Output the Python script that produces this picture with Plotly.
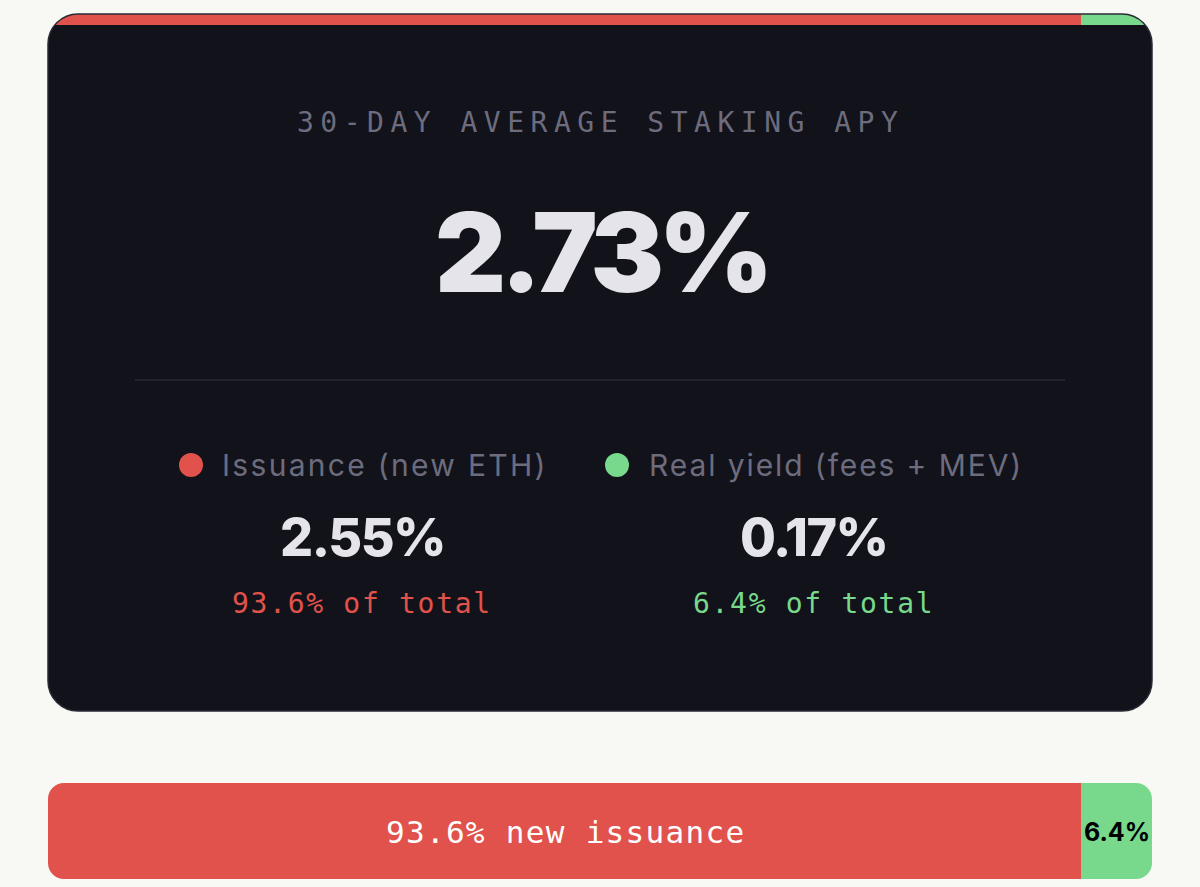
import plotly.graph_objects as go

# ---------------- data ----------------
title_text = "30-DAY AVERAGE STAKING APY"
total_apy = 2.73
components = ["Issuance (new ETH)", "Real yield (fees + MEV)"]
apy_values = [2.55, 0.17]
share_pct = [93.6, 6.4]
bar_labels = ["new issuance", ""]

# ---------------- style ----------------
W, H = 1200, 887
PAGE = "#f8f8f4"
CARD = "#12121a"
CARD_EDGE = "#2a2a36"
RED = "#e0524b"
GREEN = "#78d88c"
GREY = "#6c6c7e"
WHITE = "#e4e4ea"
SANS = "Inter, Lato, sans-serif"
MONO = "DejaVu Sans Mono, Liberation Mono, monospace"
COLORS = [RED, GREEN]

card_x0, card_x1, card_y0, card_y1, R = 48, 1152, 14, 711, 30
top_bar = (14, 25)
bot_bar = (783, 879)
BR = 16

fig = go.Figure()

top_dom_y = [(H - top_bar[1]) / H, (H - top_bar[0]) / H]
bot_dom_y = [(H - bot_bar[1]) / H, (H - bot_bar[0]) / H]
x_dom = [card_x0 / W, card_x1 / W]

bases = [0, share_pct[0]]
for axn in ("2", "3"):
    for i in range(2):
        fig.add_trace(go.Bar(
            x=[share_pct[i]], y=["mix"], base=[bases[i]], orientation="h",
            marker=dict(color=COLORS[i], line=dict(width=0)),
            xaxis="x" + axn, yaxis="y" + axn, hoverinfo="skip", showlegend=False,
        ))

# --- legend dots
dot_x = [191, 617]
fig.add_trace(go.Scatter(
    x=dot_x, y=[465, 465], mode="markers",
    marker=dict(size=24, color=COLORS, line=dict(width=0)),
    xaxis="x", yaxis="y", hoverinfo="skip", showlegend=False,
))

# ---------------- shapes ----------------
def rounded_rect(x0, y0, x1, y1, r):
    k = 0.5523 * r
    return (f"M {x0+r} {y0} L {x1-r} {y0} C {x1-r+k} {y0} {x1} {y0+r-k} {x1} {y0+r} "
            f"L {x1} {y1-r} C {x1} {y1-r+k} {x1-r+k} {y1} {x1-r} {y1} "
            f"L {x0+r} {y1} C {x0+r-k} {y1} {x0} {y1-r+k} {x0} {y1-r} "
            f"L {x0} {y0+r} C {x0} {y0+r-k} {x0+r-k} {y0} {x0+r} {y0} Z")

def corner_mask(cx, cy, sx, sy, r):
    k = 0.5523 * r
    path = (f"M {cx-sx} {cy-sy} L {cx+sx*r} {cy-sy} L {cx+sx*r} {cy} "
            f"C {cx+sx*(r-k)} {cy} {cx} {cy+sy*(r-k)} {cx} {cy+sy*r} "
            f"L {cx-sx} {cy+sy*r} Z")
    return dict(type="path", xref="x", yref="y", layer="above", fillcolor=PAGE,
                line=dict(width=0), path=path)

shapes = [
    dict(type="path", path=rounded_rect(card_x0, card_y0, card_x1, card_y1, R),
         xref="x", yref="y", fillcolor=CARD, line=dict(width=0), layer="below"),
    dict(type="line", x0=135, x1=1065, y0=380, y1=380, xref="x", yref="y",
         line=dict(color="#23232f", width=2), layer="above"),
    corner_mask(card_x0, card_y0, 1, 1, R),
    corner_mask(card_x1, card_y0, -1, 1, R),
    corner_mask(card_x0, bot_bar[0], 1, 1, BR),
    corner_mask(card_x1, bot_bar[0], -1, 1, BR),
    corner_mask(card_x0, bot_bar[1], 1, -1, BR),
    corner_mask(card_x1, bot_bar[1], -1, -1, BR),
    dict(type="path", path=rounded_rect(card_x0, card_y0, card_x1, card_y1, R),
         xref="x", yref="y", fillcolor="rgba(0,0,0,0)", line=dict(color=CARD_EDGE, width=1.5),
         layer="above"),
]

# ---------------- annotations ----------------
ann = []
def txt(x, y, s, size, color, family=SANS, weight=None, xanchor="center", ls=None):
    f = dict(size=size, color=color, family=family)
    if weight:
        f["weight"] = weight
    if ls is not None:
        s = f'<span style="letter-spacing:{ls}px">{s}</span>'
    ann.append(dict(x=x, y=y, xref="x", yref="y", text=s, showarrow=False,
                    font=f, xanchor=xanchor, yanchor="middle"))

txt(600, 122, title_text, 28, GREY, MONO, ls=6.5)
txt(601, 252, f"{total_apy:.2f}%", 110, WHITE, SANS, 900, ls=-5.5)

label_x = [220, 647]
col_x = [362, 813]
label_ls = [2.3, 1.9]
for i in range(2):
    txt(label_x[i], 465, components[i], 30, GREY, SANS, 400, xanchor="left", ls=label_ls[i])
    txt(col_x[i], 537, f"{apy_values[i]:.2f}%", 52, WHITE, SANS, 800, ls=-1.5)
    txt(col_x[i], 603, f"{share_pct[i]:.1f}% of total", 28, COLORS[i], MONO, ls=1.7)

red_end = card_x0 + (card_x1 - card_x0) * share_pct[0] / 100
txt((card_x0 + red_end) / 2 + 1, 832, f"{share_pct[0]:.1f}% {bar_labels[0]}", 31, "#ffffff", MONO, ls=1.3)
txt((red_end + card_x1) / 2, 832, f"{share_pct[1]:.1f}%", 25, "#000000", SANS, 700)

ax_off = dict(visible=False, showgrid=False, zeroline=False, fixedrange=True)
fig.update_layout(
    width=W, height=H, margin=dict(l=0, r=0, t=0, b=0),
    paper_bgcolor=PAGE, plot_bgcolor="rgba(0,0,0,0)",
    barmode="overlay", bargap=0,
    xaxis=dict(range=[0, W], domain=[0, 1], **ax_off),
    yaxis=dict(range=[H, 0], domain=[0, 1], **ax_off),
    xaxis2=dict(range=[0, 100], domain=x_dom, anchor="y2", **ax_off),
    yaxis2=dict(range=[-0.5, 0.5], domain=top_dom_y, anchor="x2", **ax_off),
    xaxis3=dict(range=[0, 100], domain=x_dom, anchor="y3", **ax_off),
    yaxis3=dict(range=[-0.5, 0.5], domain=bot_dom_y, anchor="x3", **ax_off),
    shapes=shapes, annotations=ann, showlegend=False,
)

fig.write_html("out.html", config=dict(displayModeBar=False, staticPlot=True),
               post_script="document.body.style.margin='0';document.body.style.overflow='hidden';")
